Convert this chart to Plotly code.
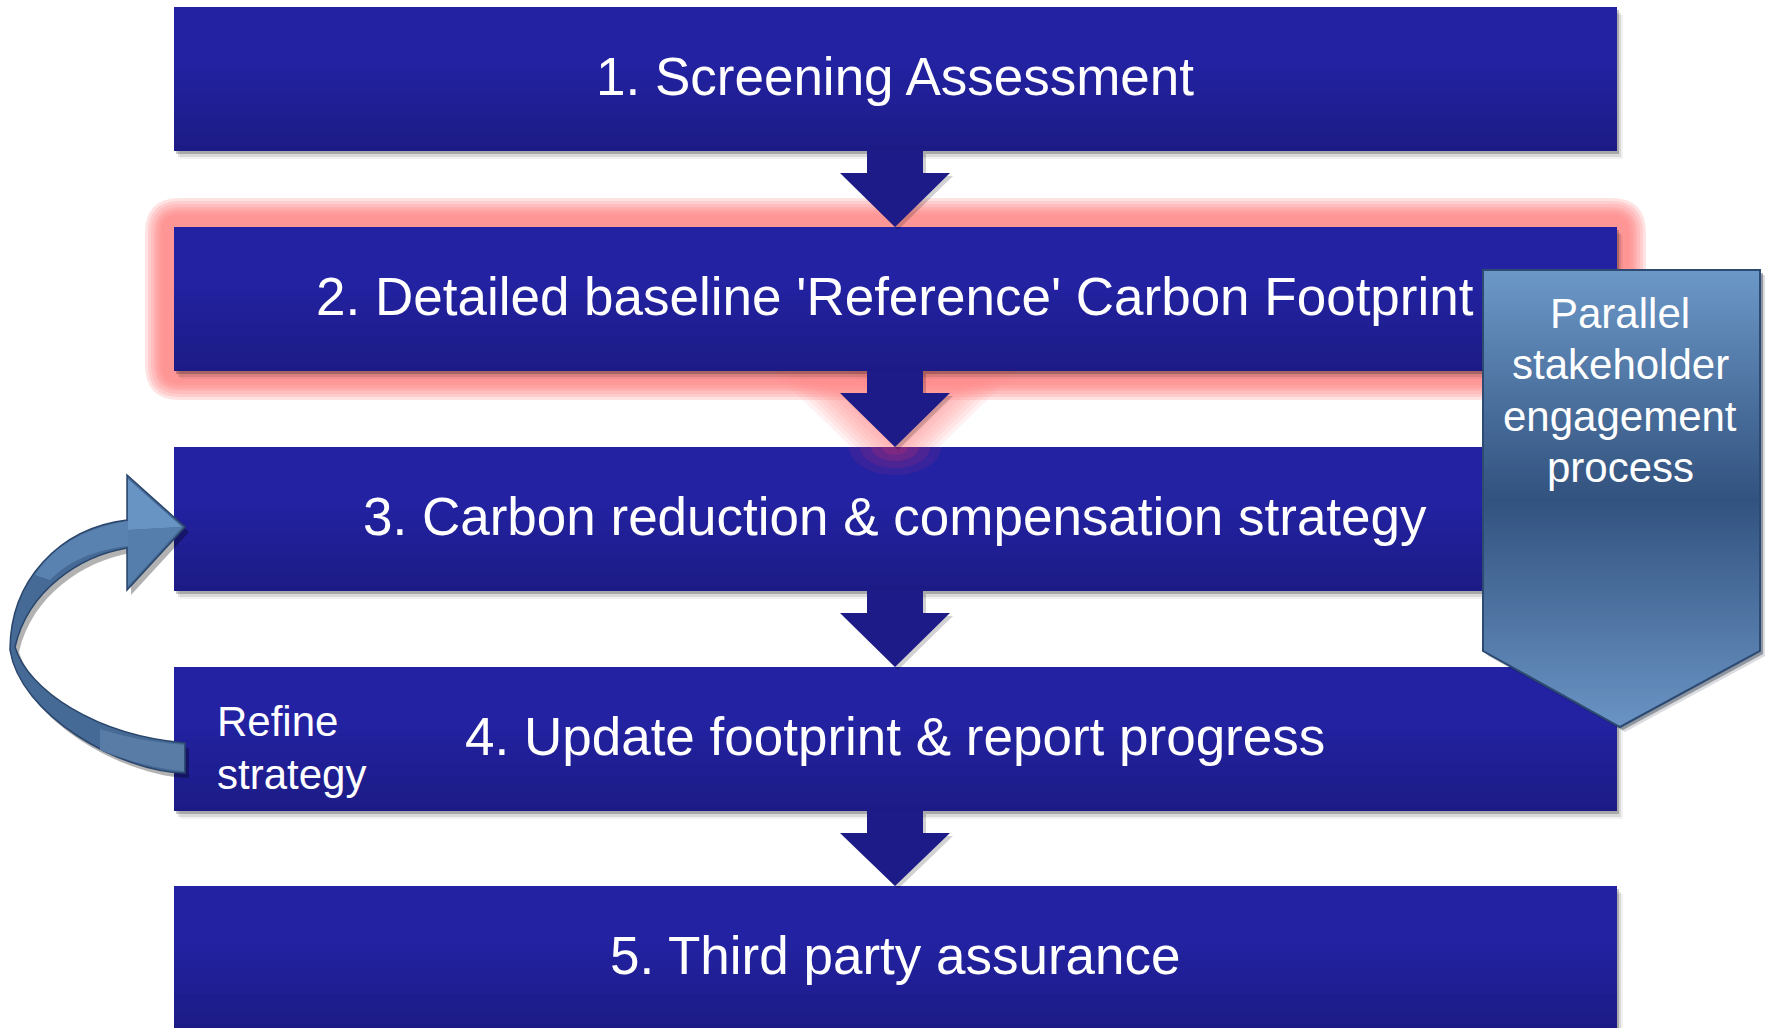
import plotly.graph_objects as go

W, H = 1767, 1028

# ---- content ----
step_labels = [
    "1. Screening Assessment",
    "2. Detailed baseline 'Reference' Carbon Footprint",
    "3. Carbon reduction & compensation strategy",
    "4. Update footprint & report progress",
    "5. Third party assurance",
]
highlighted_step = 2
side_label_lines = ["Parallel", "stakeholder", "engagement", "process"]
loop_label_lines = ["Refine", "strategy"]

# ---- geometry (pixel space) ----
BOX_X0, BOX_X1 = 174, 1617
BOX_TOPS = [7, 227, 447, 667, 886]
BOX_H = 144
CENTER_X = 895
STEM_HALF, HEAD_HALF, STEM_LEN = 28, 55, 22

PENT_X0, PENT_X1, PENT_TOP, PENT_SHOULDER = 1483, 1760, 270, 651
PENT_TIP_X, PENT_TIP_Y = 1620, 727
SIDE_LINE_Y = [313, 364, 416, 467]
LOOP_LINE_Y = [721, 774]
LOOP_TEXT_X = 215

FONT = "Liberation Sans, Arial, sans-serif"
BOX_TOP_C = (35, 34, 163)
BOX_BOT_C = (28, 27, 133)
ARROW_C = "rgb(29,27,136)"
GLOW_C = "rgb(255,140,140)"


def lerp(c0, c1, t):
    return tuple(round(c0[i] + (c1[i] - c0[i]) * t) for i in range(3))


def rgb(c):
    return "rgb(%d,%d,%d)" % c


def multi_stop(stops, t):
    for (t0, c0), (t1, c1) in zip(stops[:-1], stops[1:]):
        if t <= t1:
            return lerp(c0, c1, (t - t0) / (t1 - t0) if t1 > t0 else 0)
    return stops[-1][1]


def rrect(x0, y0, x1, y1, r):
    return (f"M {x0+r},{y0} L {x1-r},{y0} Q {x1},{y0} {x1},{y0+r} L {x1},{y1-r} "
            f"Q {x1},{y1} {x1-r},{y1} L {x0+r},{y1} Q {x0},{y1} {x0},{y1-r} "
            f"L {x0},{y0+r} Q {x0},{y0} {x0+r},{y0} Z")


def half_ellipse_below(cx, cy, rx, ry):
    k = 0.5523
    return (f"M {cx-rx},{cy} C {cx-rx},{cy+k*ry} {cx-k*rx},{cy+ry} {cx},{cy+ry} "
            f"C {cx+k*rx},{cy+ry} {cx+rx},{cy+k*ry} {cx+rx},{cy} Z")


def poly(pts):
    return "M " + " L ".join(f"{x},{y}" for x, y in pts) + " Z"


def down_arrow(cx, y_from, y_to):
    hy = y_from + STEM_LEN
    return [(cx - STEM_HALF, y_from), (cx + STEM_HALF, y_from), (cx + STEM_HALF, hy),
            (cx + HEAD_HALF, hy), (cx, y_to), (cx - HEAD_HALF, hy), (cx - STEM_HALF, hy)]


shapes = []

# ---- glow around highlighted step ----
gi = highlighted_step - 1
gy0, gy1 = BOX_TOPS[gi], BOX_TOPS[gi] + BOX_H
for e in [29, 26, 23, 20, 18, 16, 14, 12]:
    shapes.append(dict(type="path", path=rrect(BOX_X0 - e, gy0 - e, BOX_X1 + e, gy1 + e, e + 6),
                       fillcolor=GLOW_C, line=dict(width=0), opacity=0.24, layer="above"))
glow_arrow = down_arrow(CENTER_X, gy1, BOX_TOPS[gi + 1])
for k in range(8):
    shapes.append(dict(type="path", path=poly(glow_arrow), fillcolor=GLOW_C,
                       line=dict(color=GLOW_C, width=6 + k * 8), opacity=0.11, layer="above"))

# ---- boxes ----
NSTRIP = 24
for i, top in enumerate(BOX_TOPS):
    bot = top + BOX_H
    for dx, dy, a in [(2, 3, 0.22), (4, 6, 0.10), (6, 8, 0.05)]:
        shapes.append(dict(type="rect", x0=BOX_X0 + dx, x1=BOX_X1 + dx, y0=top + dy, y1=bot + dy,
                           fillcolor="rgba(0,0,0,%s)" % a, line=dict(width=0), layer="above"))
    for s in range(NSTRIP):
        y0 = top + BOX_H * s / NSTRIP
        y1 = top + BOX_H * (s + 1) / NSTRIP + 0.6
        t = (s + 0.5) / NSTRIP
        tt = max(0.0, (t - 0.35) / 0.65)
        c = lerp(BOX_TOP_C, BOX_BOT_C, tt)
        shapes.append(dict(type="rect", x0=BOX_X0, x1=BOX_X1, y0=y0, y1=min(y1, bot),
                           fillcolor=rgb(c), line=dict(width=0), layer="above"))

# glow bleeding onto the next box under the arrow tip
tip_y = BOX_TOPS[gi + 1]
for rx, ry, a in [(46, 28, 0.10), (35, 21, 0.13), (24, 14, 0.16), (13, 8, 0.18)]:
    shapes.append(dict(type="path", path=half_ellipse_below(CENTER_X, tip_y, rx, ry),
                       fillcolor="rgb(235,50,95)", line=dict(width=0), opacity=a, layer="above"))

# ---- connecting arrows ----
for i in range(len(BOX_TOPS) - 1):
    pts = down_arrow(CENTER_X, BOX_TOPS[i] + BOX_H, BOX_TOPS[i + 1])
    sh = [(x + 3, y + 3) for x, y in pts]
    shapes.append(dict(type="path", path=poly(sh), fillcolor="rgba(0,0,0,0.18)",
                       line=dict(width=0), layer="above"))
    shapes.append(dict(type="path", path=poly(pts), fillcolor=ARROW_C,
                       line=dict(width=0), layer="above"))

# ---- side pentagon arrow ----
def pent_span(y):
    if y <= PENT_SHOULDER:
        return PENT_X0, PENT_X1
    f = min(1.0, (y - PENT_SHOULDER) / (PENT_TIP_Y - PENT_SHOULDER))
    return PENT_X0 + f * (PENT_TIP_X - PENT_X0), PENT_X1 - f * (PENT_X1 - PENT_TIP_X)

pent_pts = [(PENT_X0, PENT_TOP), (PENT_X1, PENT_TOP), (PENT_X1, PENT_SHOULDER),
            (PENT_TIP_X, PENT_TIP_Y), (PENT_X0, PENT_SHOULDER)]
for dx, dy, a in [(3, 3, 0.35), (5, 5, 0.15)]:
    shapes.append(dict(type="path", path=poly([(x + dx, y + dy) for x, y in pent_pts]),
                       fillcolor="rgba(10,20,40,%s)" % a, line=dict(width=0), layer="above"))
pent_stops = [(0.0, (108, 152, 199)), (0.5, (50, 82, 127)), (1.0, (106, 148, 196))]
ys = list(range(PENT_TOP, PENT_SHOULDER, 4)) + [PENT_SHOULDER]
yt = list(range(PENT_SHOULDER, PENT_TIP_Y, 3)) + [PENT_TIP_Y]
edges = ys + yt[1:]
for y0, y1 in zip(edges[:-1], edges[1:]):
    t = ((y0 + y1) / 2 - PENT_TOP) / (PENT_TIP_Y - PENT_TOP)
    c = multi_stop(pent_stops, t)
    a0, b0 = pent_span(y0)
    a1, b1 = pent_span(y1 + 0.6)
    shapes.append(dict(type="path", path=poly([(a0, y0), (b0, y0), (b1, y1 + 0.6), (a1, y1 + 0.6)]),
                       fillcolor=rgb(c), line=dict(width=0), layer="above"))
shapes.append(dict(type="path", path=poly(pent_pts), fillcolor="rgba(0,0,0,0)",
                   line=dict(color="rgb(44,74,114)", width=2), layer="above"))

# ---- curved loop arrow ----
def loop_path(dx=0, dy=0):
    def p(x, y):
        return f"{x+dx},{y+dy}"
    return (f"M {p(127,475)} L {p(185,527)} L {p(127,590)} L {p(127,548)} "
            f"C {p(80,556)} {p(28,590)} {p(15,647)} "
            f"C {p(28,690)} {p(95,735)} {p(185,743)} "
            f"L {p(185,773)} "
            f"C {p(120,772)} {p(20,715)} {p(10,650)} "
            f"C {p(10,580)} {p(60,528)} {p(127,520)} Z")

shapes.append(dict(type="path", path=loop_path(4, 5), fillcolor="rgba(0,0,0,0.3)",
                   line=dict(width=0), layer="above"))
shapes.append(dict(type="path", path=loop_path(), fillcolor="rgb(70,106,150)",
                   line=dict(color="rgb(42,70,108)", width=1.5), layer="above"))
shapes.append(dict(type="path", path="M 128,479 L 182,527 L 128,530 Z",
                   fillcolor="rgb(104,148,196)", line=dict(width=0), layer="above"))
shapes.append(dict(type="path", path="M 128,530 L 182,527 L 128,586 Z",
                   fillcolor="rgb(86,126,172)", line=dict(width=0), layer="above"))
shapes.append(dict(type="path", path="M 128,521 C 90,527 55,543 35,575 L 50,580 C 70,560 95,550 128,546 Z",
                   fillcolor="rgb(90,130,176)", line=dict(width=0), layer="above"))
shapes.append(dict(type="path", path="M 184,745 C 150,742 125,737 100,729 L 100,750 C 130,762 160,769 184,771 Z",
                   fillcolor="rgb(88,124,166)", line=dict(width=0), layer="above"))

# ---- annotations ----
ann = []
for i, lab in enumerate(step_labels):
    cy = BOX_TOPS[i] + BOX_H / 2 - 3
    ann.append(dict(x=CENTER_X, y=cy, text=lab, showarrow=False, xanchor="center", yanchor="middle",
                    font=dict(family=FONT, size=53, color="white")))
for txt, y in zip(side_label_lines, SIDE_LINE_Y):
    ann.append(dict(x=PENT_TIP_X, y=y, text=txt, showarrow=False, xanchor="center", yanchor="middle",
                    font=dict(family=FONT, size=42, color="white")))
for txt, y in zip(loop_label_lines, LOOP_LINE_Y):
    ann.append(dict(x=LOOP_TEXT_X, y=y, text=txt, showarrow=False, xanchor="left", yanchor="middle",
                    font=dict(family=FONT, size=42, color="white")))

fig = go.Figure()
fig.update_layout(
    width=W, height=H, margin=dict(l=0, r=0, t=0, b=0),
    paper_bgcolor="white", plot_bgcolor="white",
    xaxis=dict(range=[0, W], visible=False, fixedrange=True),
    yaxis=dict(range=[H, 0], visible=False, fixedrange=True),
    shapes=shapes, annotations=ann, showlegend=False,
)
fig.write_html("out.html", config={"displayModeBar": False},
               post_script="document.body.style.margin='0';document.body.style.overflow='hidden';")
